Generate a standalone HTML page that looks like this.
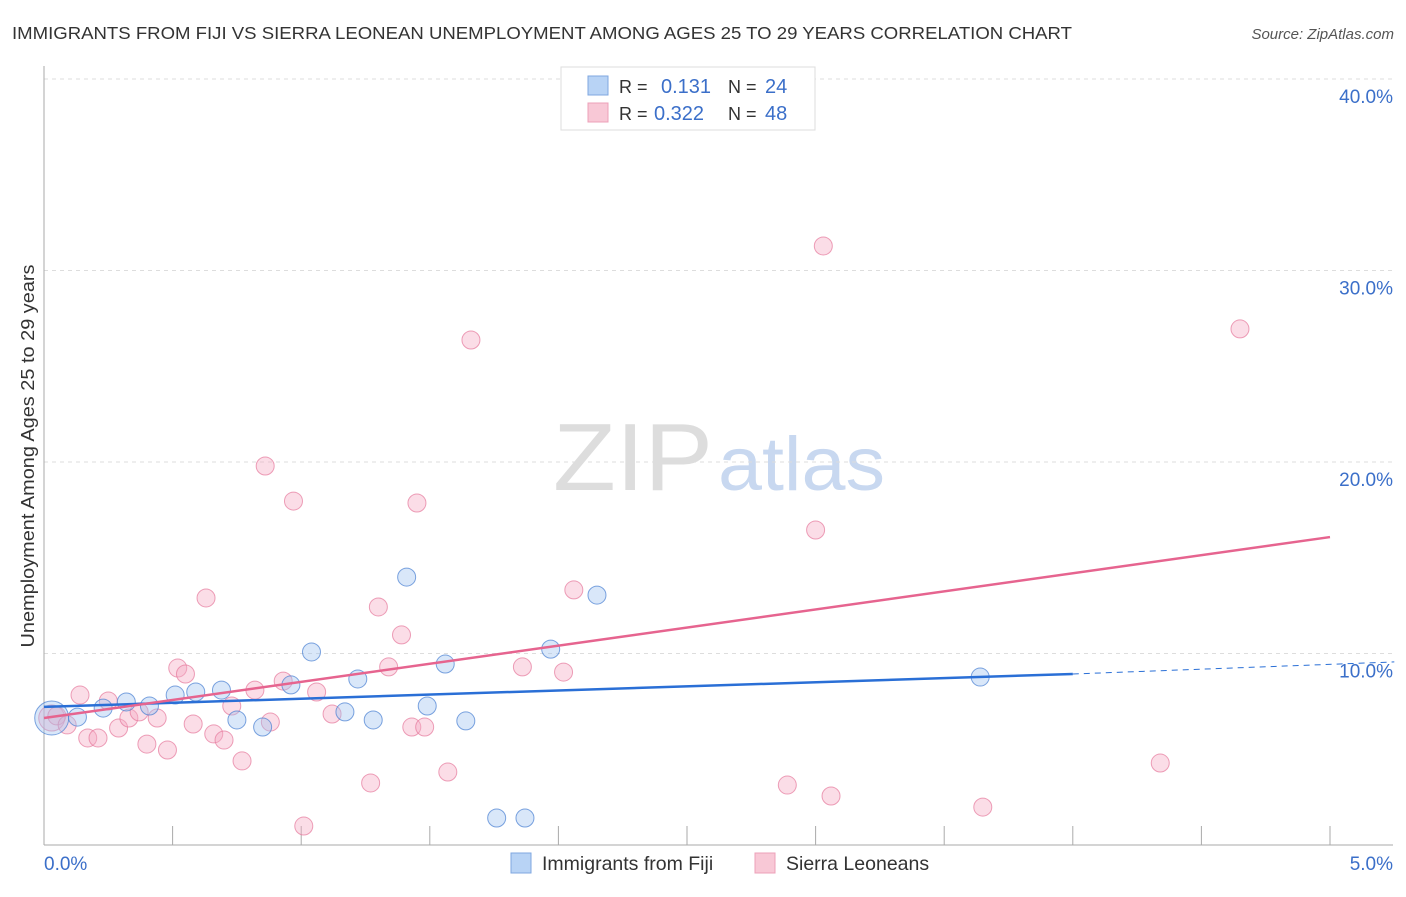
<!DOCTYPE html>
<html><head><meta charset="utf-8"><style>
body{margin:0;background:#fff;font-family:"Liberation Sans",sans-serif;}
svg text{font-family:"Liberation Sans",sans-serif;}
</style></head><body>
<svg id="c" width="1406" height="892">
<text x="12" y="39" font-size="17.5" fill="#333" textLength="1060" lengthAdjust="spacingAndGlyphs">IMMIGRANTS FROM FIJI VS SIERRA LEONEAN UNEMPLOYMENT AMONG AGES 25 TO 29 YEARS CORRELATION CHART</text>
<text x="1394" y="39" font-size="15" fill="#555" font-style="italic" text-anchor="end">Source: ZipAtlas.com</text>
<text x="713" y="490" font-size="96" fill="#ddd" text-anchor="end" font-family="Liberation Serif" textLength="160" lengthAdjust="spacingAndGlyphs">ZIP</text>
<text x="718" y="490" font-size="76" fill="#c8d8f0" textLength="167" lengthAdjust="spacingAndGlyphs">atlas</text>
<text transform="translate(34,456) rotate(-90)" font-size="18.5" fill="#333" text-anchor="middle" textLength="383" lengthAdjust="spacingAndGlyphs">Unemployment Among Ages 25 to 29 years</text>
<g id="grid"></g><g id="pts"></g><g id="lines"></g>
<g>
<rect x="561" y="67" width="254" height="63" fill="#fff" stroke="#ddd"/>
<rect x="588" y="76" width="20" height="19" fill="#b8d3f5" stroke="#7fa7e0"/>
<rect x="588" y="103" width="20" height="19" fill="#f8c8d6" stroke="#eda0b8"/>
<text x="619" y="93" font-size="18" fill="#333">R = </text><text x="661" y="93" font-size="20" fill="#3b6fc9">0.131</text>
<text x="728" y="93" font-size="18" fill="#333">N = </text><text x="765" y="93" font-size="20" fill="#3b6fc9">24</text>
<text x="619" y="120" font-size="18" fill="#333">R = </text><text x="654" y="120" font-size="20" fill="#3b6fc9">0.322</text>
<text x="728" y="120" font-size="18" fill="#333">N = </text><text x="765" y="120" font-size="20" fill="#3b6fc9">48</text>
</g>
<g>
<rect x="511" y="853" width="20" height="20" fill="#b8d3f5" stroke="#7fa7e0"/>
<text x="542" y="870" font-size="19.5" fill="#333">Immigrants from Fiji</text>
<rect x="755" y="853" width="20" height="20" fill="#f8c8d6" stroke="#eda0b8"/>
<text x="786" y="870" font-size="19.5" fill="#333">Sierra Leoneans</text>
</g>
</svg>
<script>
const yTicks=[10,20,30,40];
const yTickLabels=["10.0%","20.0%","30.0%","40.0%"];
const fijiX=[0.03,0.13,0.23,0.32,0.41,0.51,0.59,0.69,0.75,0.85,0.96,1.04,1.17,1.22,1.28,1.41,1.49,1.56,1.64,1.76,1.87,1.97,2.15,3.64];
const fijiY=[6.63,6.68,7.15,7.47,7.26,7.83,7.99,8.09,6.53,6.16,8.36,10.08,6.95,8.67,6.53,13.99,7.26,9.45,6.48,1.41,1.41,10.23,13.05,8.77];
const sierraX=[0.03,0.05,0.09,0.14,0.17,0.21,0.25,0.29,0.33,0.37,0.40,0.44,0.48,0.52,0.55,0.58,0.63,0.66,0.70,0.73,0.77,0.82,0.86,0.88,0.93,0.97,1.01,1.06,1.12,1.27,1.30,1.34,1.39,1.43,1.45,1.48,1.57,1.66,1.86,2.02,2.06,2.89,3.00,3.03,3.06,3.65,4.34,4.65];
const sierraY=[6.63,6.74,6.27,7.83,5.59,5.59,7.52,6.11,6.63,6.95,5.27,6.63,4.96,9.24,8.93,6.32,12.90,5.80,5.48,7.26,4.39,8.09,19.79,6.42,8.56,17.96,0.99,7.99,6.84,3.24,12.43,9.30,10.97,6.16,17.86,6.16,3.81,26.37,9.30,9.03,13.32,3.13,16.45,31.28,2.56,1.98,4.28,26.95];
const fijiTrend=[7.21,8.93,9.56]; // at x=0,4,5.25
const sierraTrend=[6.63,16.08]; // at x=0,5
const X=v=>44+v*257.2, Y=v=>845-v*19.15;
const NS="http://www.w3.org/2000/svg";
function mk(t,a,p){const e=document.createElementNS(NS,t);for(const k in a)e.setAttribute(k,a[k]);p.appendChild(e);return e;}
const g=document.getElementById('grid');
yTicks.forEach((t,i)=>{
 const l=mk('line',{x1:44,x2:1393,y1:Y(t),y2:Y(t),stroke:'#ddd','stroke-dasharray':'4,4'},g);
 
 
 const tx=mk('text',{x:1393,y:Y(t)+24,'font-size':19,fill:'#3b6fc9','text-anchor':'end'},g);tx.textContent=yTickLabels[i];
 
 
});
const ax=mk('line',{x1:44,x2:1393,y1:845,y2:845,stroke:'#aaa'},g);


const ay=mk('line',{x1:44,x2:44,y1:66,y2:845,stroke:'#aaa'},g);


for(let i=1;i<=10;i++){const t=mk('line',{x1:X(i*0.5),x2:X(i*0.5),y1:826,y2:845,stroke:'#aaa'},g);
 
 }
[["0.0%",44,'start'],["5.0%",1393,'end']].forEach(d=>{const t=mk('text',{x:d[1],y:870,'font-size':19,fill:'#3b6fc9','text-anchor':d[2]},g);t.textContent=d[0];
 
 });
const p=document.getElementById('pts');
sierraX.forEach((x,i)=>{const c=mk('circle',{cx:X(x),cy:Y(sierraY[i]),r:i==0?13:9,fill:'rgba(245,170,195,0.4)',stroke:'rgba(230,120,155,0.7)','stroke-width':1},p);
 
 });
fijiX.forEach((x,i)=>{const c=mk('circle',{cx:X(x),cy:Y(fijiY[i]),r:i==0?17:9,fill:'rgba(160,195,240,0.4)',stroke:'rgba(70,125,210,0.7)','stroke-width':1},p);
 
 });
const L=document.getElementById('lines');
const b1=mk('line',{x1:X(0),y1:Y(fijiTrend[0]),x2:X(4),y2:Y(fijiTrend[1]),stroke:'#2a6fd6','stroke-width':2.5},L);


const b2=mk('line',{x1:X(4),y1:Y(fijiTrend[1]),x2:X(5.25),y2:Y(fijiTrend[2]),stroke:'#2a6fd6','stroke-width':1,'stroke-dasharray':'6,5'},L);


const s1=mk('line',{x1:X(0),y1:Y(sierraTrend[0]),x2:X(5),y2:Y(sierraTrend[1]),stroke:'#e6648f','stroke-width':2.5},L);


</script>
</body></html>
